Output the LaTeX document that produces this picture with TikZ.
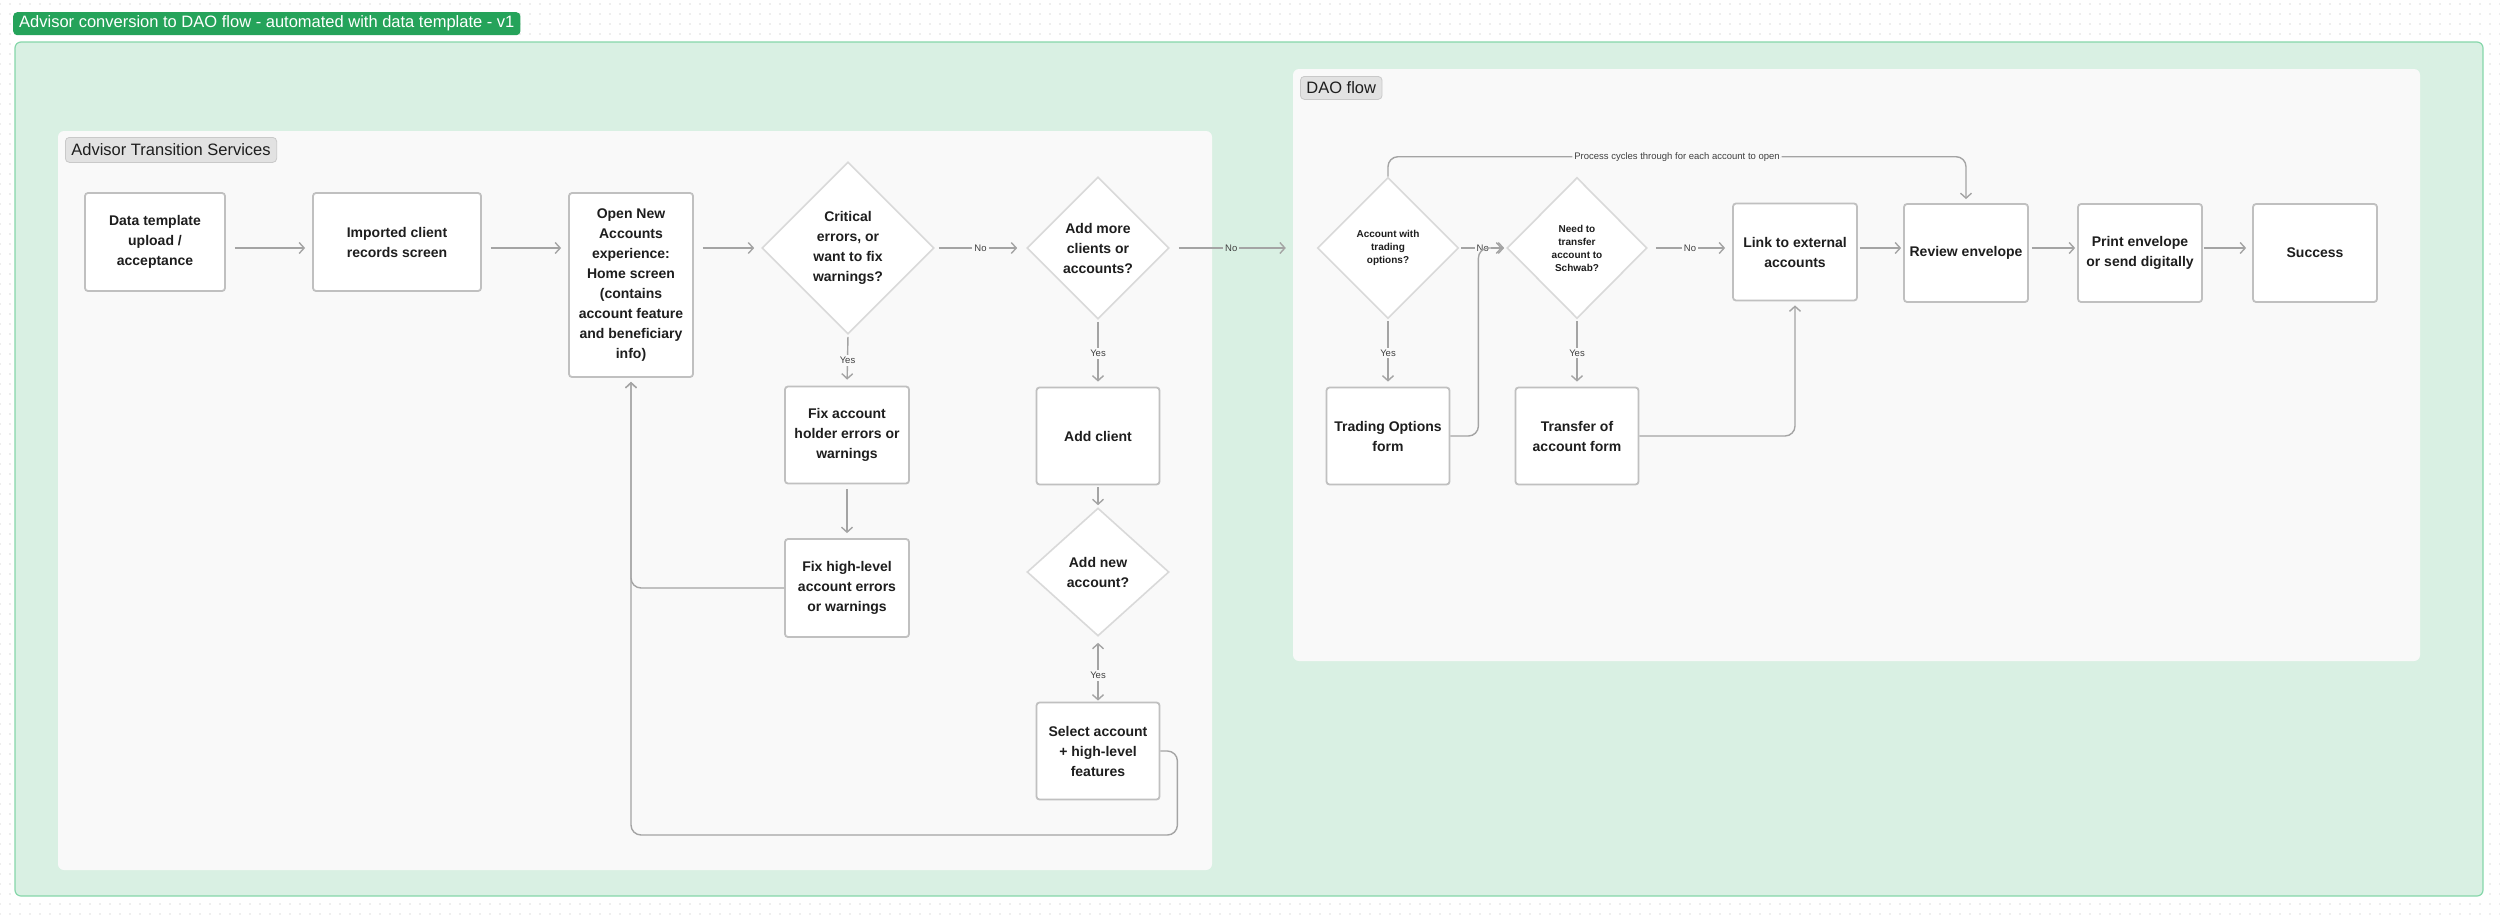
\documentclass[tikz,border=0pt]{standalone}
\usepackage{fontspec}
\setmainfont{Liberation Sans}
\usetikzlibrary{arrows.meta,shapes.geometric,patterns.meta}

\definecolor{bggreen}{HTML}{D9F0E3}
\definecolor{edgegreen}{HTML}{86D7AA}
\definecolor{taggreen}{HTML}{25A35A}
\definecolor{panelgray}{HTML}{F9F9F9}
\definecolor{taggray}{HTML}{E2E2E2}
\definecolor{tagedge}{HTML}{C9C9C9}
\definecolor{boxedge}{HTML}{C0C0C0}
\definecolor{diaedge}{HTML}{D9D9D9}
\definecolor{linegray}{HTML}{A4A4A4}
\definecolor{ink}{HTML}{1E1E1E}

\tikzset{barb/.tip={Straight Barb[length=5pt,width=11pt]}}

\begin{document}
\begin{tikzpicture}[x=1pt, y=-1pt,
  font=\fontsize{14}{20}\selectfont\bfseries, text=ink,
  frame/.style={rectangle, rounded corners=6pt, inner sep=0pt},
  tag/.style={rectangle, rounded corners=4pt, anchor=north west, inner xsep=6pt,
              inner ysep=0pt, font=\fontsize{16.5}{18}\selectfont},
  box/.style={rectangle, rounded corners=3pt, draw=boxedge, line width=1.8pt, fill=white,
              minimum width=124pt, minimum height=97pt, align=center, inner sep=2pt},
  dia/.style={diamond, draw=diaedge, line width=1.6pt, fill=white, inner sep=0pt},
  dtext/.style={align=center},
  dsmall/.style={align=center, font=\fontsize{10}{13}\selectfont\bfseries},
  lbl/.style={fill=panelgray, inner sep=2pt, font=\fontsize{9.5}{11}\selectfont, text=ink!85},
  arr/.style={draw=linegray, line width=1.4pt, -barb, shorten >=4pt, shorten <=3pt},
  atsgap/.style={shorten >=7pt, shorten <=9pt},
  back/.style={rounded corners=10pt, shorten <=0pt}
]
\useasboundingbox (0,0) rectangle (2500,914);
\fill[white] (0,0) rectangle (2500,914);
\fill[pattern={Dots[distance=10pt, radius=0.7pt]}, pattern color=black!28] (0,0) rectangle (2500,914);

% frames
\node[frame, draw=edgegreen, line width=1.2pt, fill=bggreen, minimum width=2468pt,
      minimum height=854pt] (outer) at (1249,469) {};
\node[frame, fill=panelgray, minimum width=1154pt, minimum height=739pt] (ats) at (635,500.5) {};
\node[frame, fill=panelgray, minimum width=1127pt, minimum height=592pt] (dao) at (1856.5,365) {};

% tags
\node[tag, fill=taggreen, text=white, minimum height=23pt] (title) at (13,12)
  {Advisor conversion to DAO flow - automated with data template - v1};
\node[tag, fill=taggray, draw=tagedge, line width=0.8pt, minimum height=25pt] (atstag) at (65,137)
  {Advisor Transition Services};
\node[tag, fill=taggray, draw=tagedge, line width=0.8pt, minimum height=23pt] (daotag) at (1300,76)
  {DAO flow};

% advisor transition services
\node[box, minimum width=140pt, minimum height=98pt] (dtpl) at (155,242) {Data template\\upload /\\acceptance};
\node[box, minimum width=168pt, minimum height=98pt] (imp) at (397,242) {Imported client\\records screen};
\node[box, minimum height=184pt] (home) at (631,285)
  {Open New\\Accounts\\experience:\\Home screen\\(contains\\account feature\\and beneficiary\\info)};
\node[dia, minimum width=172pt, minimum height=172pt,
      label={[dtext]center:Critical\\errors, or\\want to fix\\warnings?}] (crit) at (848,248) {};
\node[box] (fixh) at (847,435) {Fix account\\holder errors or\\warnings};
\node[box, minimum height=98pt] (fixa) at (847,588) {Fix high-level\\account errors\\or warnings};
\node[dia, minimum width=142pt, minimum height=142pt,
      label={[dtext]center:Add more\\clients or\\accounts?}] (more) at (1098,248) {};
\node[box, minimum width=123pt] (addc) at (1098,436) {Add client};
\node[dia, minimum width=142pt, minimum height=128pt,
      label={[dtext]center:Add new\\account?}] (newacc) at (1098,572) {};
\node[box, minimum width=123pt] (sel) at (1098,751) {Select account\\+ high-level\\features};

% DAO flow
\node[dia, minimum width=141pt, minimum height=141pt,
      label={[dsmall]center:Account with\\trading\\options?}] (acct) at (1388,248) {};
\node[dia, minimum width=140pt, minimum height=141pt,
      label={[dsmall]center:Need to\\transfer\\account to\\Schwab?}] (xfer) at (1577,248) {};
\node[box, minimum width=123pt] (topt) at (1388,436) {Trading Options\\form};
\node[box, minimum width=123pt] (tform) at (1577,436) {Transfer of\\account form};
\node[box] (link) at (1795,252) {Link to external\\accounts};
\node[box, minimum height=98pt] (review) at (1966,253) {Review envelope};
\node[box, minimum height=98pt] (print) at (2140,253) {Print envelope\\or send digitally};
\node[box, minimum height=98pt] (succ) at (2315,253) {Success};

\coordinate (rowA) at (0,248);
\coordinate (loopy) at (0,835);

% connectors, advisor side
\draw[arr, atsgap] (dtpl.east |- rowA) -- (imp.west |- rowA);
\draw[arr, atsgap] (imp.east |- rowA) -- (home.west |- rowA);
\draw[arr, atsgap] (home.east |- rowA) -- (crit.west);
\draw[arr, shorten <=4pt, shorten >=9pt] (crit.east) -- node[lbl]{No} (more.west);
\draw[arr, atsgap] (more.east) -- node[lbl, fill=bggreen]{No} (dao.west |- more.east);
\draw[arr, shorten <=2pt, shorten >=6pt] (crit.south) -- node[lbl]{Yes} (fixh.north);
\draw[arr, shorten <=5pt, shorten >=5pt] (fixh.south) -- (fixa.north);
\draw[arr, back] (fixa.west) -| (home.south);
\draw[arr, back] (sel.east) -- ++(17,0) |- (home.south |- loopy) -- (home.south);
\draw[arr, shorten <=2pt, shorten >=5pt] (more.south) -- node[lbl]{Yes} (addc.north);
\draw[arr, shorten <=2pt, shorten >=2pt] (addc.south) -- (newacc.north);
\draw[arr, barb-barb, shorten <=6pt, shorten >=1pt] (newacc.south) -- node[lbl, pos=0.6]{Yes} (sel.north);

% connectors, DAO side
\draw[arr, shorten <=2pt, shorten >=2pt] (acct.east) -- node[lbl]{No} (xfer.west);
\draw[arr, shorten <=2pt, shorten >=5pt] (acct.south) -- node[lbl]{Yes} (topt.north);
\draw[arr, shorten <=2pt, shorten >=5pt] (xfer.south) -- node[lbl]{Yes} (tform.north);
\draw[arr, shorten <=8pt, shorten >=7pt] (xfer.east) -- node[lbl]{No} (link.west |- xfer.east);
\draw[arr, shorten <=2pt, shorten >=2pt] (link.east |- rowA) -- (review.west |- rowA);
\draw[arr, shorten <=3pt, shorten >=2pt] (review.east |- rowA) -- (print.west |- rowA);
\draw[arr, shorten <=1pt, shorten >=6pt] (print.east |- rowA) -- (succ.west |- rowA);
\draw[arr, back] (topt.east) -- ++(28,0) |- (xfer.west);
\draw[arr, back] (tform.east) -| (link.south);
\draw[arr, back] (acct.north) -- ++(0,-20) -| node[lbl, pos=0.25]{Process cycles through for each account to open} (review.north);
\end{tikzpicture}
\end{document}
